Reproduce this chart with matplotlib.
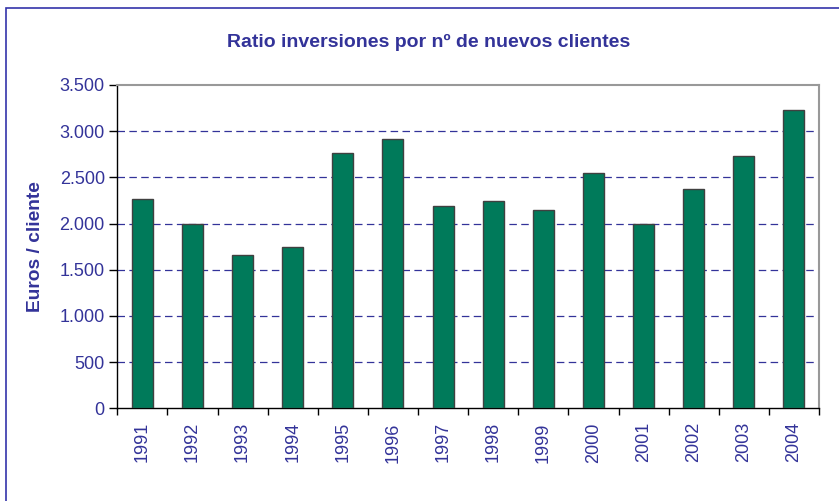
import numpy as np
import matplotlib.pyplot as plt
from matplotlib.patches import Rectangle
from matplotlib.ticker import FuncFormatter

# Ratio de inversiones por cliente nuevo, 1991-2004
years = ['1991', '1992', '1993', '1994', '1995', '1996', '1997',
         '1998', '1999', '2000', '2001', '2002', '2003', '2004']
ratio = [2270, 2000, 1660, 1745, 2765, 2915, 2185,
         2245, 2150, 2550, 1990, 2375, 2730, 3225]
y_ticks = [0, 500, 1000, 1500, 2000, 2500, 3000, 3500]

NAVY = '#333399'
plt.rcParams['font.family'] = ['Liberation Sans', 'DejaVu Sans']

W, H = 839, 501
fig = plt.figure(figsize=(W / 100, H / 100), dpi=100)
ax = fig.add_axes([117.3 / W, 1 - 408.3 / H, (819 - 117.3) / W, (408.3 - 85) / H])

x = np.arange(len(years))
ax.bar(x, ratio, width=0.42, color='#007A5A', edgecolor='#404040', linewidth=1.0, zorder=3)

ax.set_xlim(-0.5, len(years) - 0.5)
ax.set_ylim(0, 3500)

# thousands separator with a dot
ax.set_yticks(y_ticks)
ax.yaxis.set_major_formatter(FuncFormatter(lambda v, p: f'{int(v):,}'.replace(',', '.')))
for v in y_ticks[1:-1]:
    ax.axhline(v, color=NAVY, linewidth=0.9, linestyle=(0, (6, 3.5)), zorder=1)

# labels centred under the bars, tick marks on the category borders
ax.set_xticks(x)
ax.set_xticklabels(years, rotation=90)
ax.set_xticks(np.arange(len(years) + 1) - 0.5, minor=True)
ax.tick_params(axis='x', which='major', length=0, pad=10, labelsize=13, labelcolor=NAVY)
ax.tick_params(axis='x', which='minor', length=5, width=1, color='black', direction='out')
ax.tick_params(axis='y', length=6, width=1, color='black', labelsize=13, labelcolor=NAVY, pad=3)

for side in ('left', 'bottom'):
    ax.spines[side].set_color('black')
    ax.spines[side].set_linewidth(1.0)
for side in ('top', 'right'):
    ax.spines[side].set_color('#999999')
    ax.spines[side].set_linewidth(1.5)

fig.text(428.5 / W, 1 - 42 / H, 'Ratio inversiones por nº de nuevos clientes',
         ha='center', va='center', fontsize=14, fontweight='bold', color=NAVY)
fig.text(35 / W, 1 - 247 / H, 'Euros / cliente', rotation=90,
         ha='center', va='center', fontsize=13.8, fontweight='bold', color=NAVY)

# chart frame (only its left and top edges fall inside the figure)
fig.patches.append(Rectangle((6 / W, -0.1), 1.2, (H - 8) / H + 0.1,
                             transform=fig.transFigure, fill=False,
                             edgecolor='#3333AA', linewidth=1.2))

fig.savefig('out.png', dpi=100)
